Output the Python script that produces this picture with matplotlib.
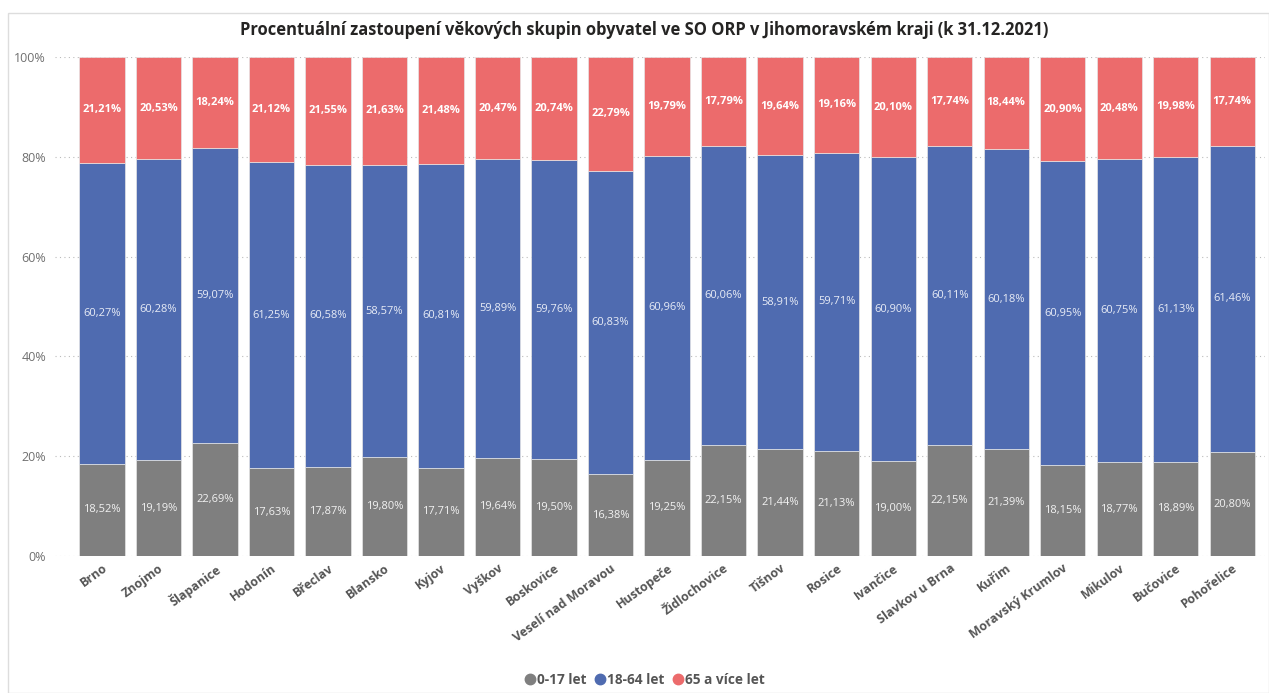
import matplotlib.pyplot as plt
import numpy as np
from matplotlib.lines import Line2D
from matplotlib.patches import Rectangle

plt.rcParams['font.family'] = ['Open Sans', 'DejaVu Sans']

# --------------------------------------------------
# Data (share of age groups, %)
# --------------------------------------------------
orp = ["Brno", "Znojmo", "Šlapanice", "Hodonín", "Břeclav", "Blansko", "Kyjov",
       "Vyškov", "Boskovice", "Veselí nad Moravou", "Hustopeče", "Židlochovice",
       "Tišnov", "Rosice", "Ivančice", "Slavkov u Brna", "Kuřim",
       "Moravský Krumlov", "Mikulov", "Bučovice", "Pohořelice"]
age_0_17 = [18.52, 19.19, 22.69, 17.63, 17.87, 19.80, 17.71, 19.64, 19.50, 16.38,
            19.25, 22.15, 21.44, 21.13, 19.00, 22.15, 21.39, 18.15, 18.77, 18.89, 20.80]
age_18_64 = [60.27, 60.28, 59.07, 61.25, 60.58, 58.57, 60.81, 59.89, 59.76, 60.83,
             60.96, 60.06, 58.91, 59.71, 60.90, 60.11, 60.18, 60.95, 60.75, 61.13, 61.46]
age_65 = [21.21, 20.53, 18.24, 21.12, 21.55, 21.63, 21.48, 20.47, 20.74, 22.79,
          19.79, 17.79, 19.64, 19.16, 20.10, 17.74, 18.44, 20.90, 20.48, 19.98, 17.74]
groups = ["0-17 let", "18-64 let", "65 a více let"]
colors = ["#7F7F7F", "#4F6BB0", "#EC6B6C"]
label_colors = ["#F2F2F2", "#E8ECF6", "white"]
label_weights = ["normal", "normal", "bold"]

# --------------------------------------------------
# Figure
# --------------------------------------------------
fig = plt.figure(figsize=(12.69, 6.93), dpi=100)
ax = fig.add_axes([55 / 1269, 1 - 556 / 693, 1210 / 1269, 499 / 693])

x = np.arange(len(orp))
bottom = np.zeros(len(orp))
for vals, col, lc, lw in zip([age_0_17, age_18_64, age_65], colors, label_colors, label_weights):
    vals = np.array(vals)
    ax.bar(x, vals, bottom=bottom, width=0.8, color=col, edgecolor="#E6E6E6",
           linewidth=0.5, zorder=3)
    for xi, b, v in zip(x, bottom, vals):
        ax.text(xi, b + v / 2, f"{v:.2f}%".replace(".", ","), ha="center", va="center",
                color=lc, fontsize=8, fontweight=lw, zorder=4)
    bottom += vals

ax.set_xlim(-0.83, 20.58)
ax.set_ylim(0, 100)
ax.set_yticks(range(0, 101, 20))
ax.set_yticklabels([f"{t}%" for t in range(0, 101, 20)], color="#707070", fontsize=9)
ax.yaxis.grid(True, linestyle=(0, (1, 3)), color="#BBBBBB", linewidth=0.8, zorder=0)
ax.tick_params(axis="y", length=0, pad=6.5)
ax.tick_params(axis="x", length=0, pad=4)
ax.set_xticks(x)
ax.set_xticklabels(orp, rotation=36, ha="right", rotation_mode="anchor",
                   fontsize=9, fontweight="bold", color="#555555")
for s in ax.spines.values():
    s.set_visible(False)

fig.text(0.508, 1 - 30 / 693, "Procentuální zastoupení věkových skupin obyvatel ve SO ORP v Jihomoravském kraji (k 31.12.2021)",
         ha="center", va="center", fontsize=11.9, fontweight="bold", color="#252423")

handles = [Line2D([], [], marker="o", linestyle="none", color=c, markersize=7.5) for c in colors]
leg = fig.legend(handles, groups, loc="center", bbox_to_anchor=(644 / 1269, 1 - 680 / 693), ncol=3,
                 frameon=False, handletextpad=0.0, columnspacing=0.5, handlelength=1.0,
                 prop={"weight": "bold", "size": 9.8})
for t in leg.get_texts():
    t.set_color("#555555")

# light frame around the visual
fig.patches.append(Rectangle((8 / 1269, 0), 1 - 8 / 1269, 1 - 13 / 693, transform=fig.transFigure,
                             fill=False, edgecolor="#DDDDDD", linewidth=1))

fig.savefig("out.png", dpi=100)
